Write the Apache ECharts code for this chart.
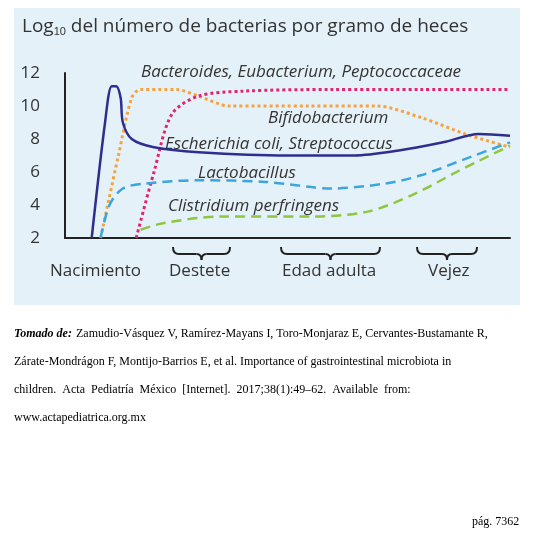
<!DOCTYPE html><html><head><meta charset="utf-8">
<script src="https://cdn.jsdelivr.net/npm/echarts@6/dist/echarts.min.js"></script>
<style>body{margin:0;background:#fff}#c{width:537px;height:534px}</style></head><body><div id="c"></div>
<script>
const yTicks=[2,4,6,8,10,12];
const ecoli=[[6,2],[9,9],[10.5,11.2],[11.5,11.2],[12.5,10.5],[13,9],[15,8],[20,7.5],[30,7.2],[50,7],[65,7],[75,7.3],[85,7.8],[93,8.3],[100,8.2]];
const bacteroides=[[8,2],[12,7],[15,10.5],[17,11],[25,11],[30,10.6],[37,10],[55,10],[70,10],[80,9.3],[90,8.3],[100,7.5]];
const bifido=[[16,2],[20,6],[24,9.5],[30,10.6],[40,10.9],[60,11],[80,11],[100,11]];
const lacto=[[8,2],[10,4],[13,5],[18,5.3],[30,5.5],[45,5.4],[60,5],[72,5.3],[80,5.8],[90,6.8],[100,7.8]];
const clostri=[[17,2.5],[22,2.9],[35,3.3],[55,3.3],[68,3.6],[78,4.6],[88,6],[100,7.6]];
const periods=["Nacimiento","Destete","Edad adulta","Vejez"];
const seriesNames=["Bacteroides, Eubacterium, Peptococcaceae","Bifidobacterium","Escherichia coli, Streptococcus","Lactobacillus","Clistridium perfringens"];
const ch=echarts.init(document.getElementById('c'));
const ln=(d,c,t,w)=>({type:'line',data:d,smooth:0.3,symbol:'none',lineStyle:{color:c,type:t,width:w}});
const st={fill:'none',stroke:'#222',lineWidth:2};
const bz=(a,b,c,d,e,f)=>({type:'bezierCurve',shape:{x1:a,y1:b,cpx1:c,cpy1:d,x2:e,y2:f},style:st});
const brace=(x1,x2)=>{const m=(x1+x2)/2;return [
 bz(x1,247,x1,254,x1+6,254),{type:'line',shape:{x1:x1+6,y1:254,x2:m-5,y2:254},style:st},
 bz(m-5,254,m,254,m,260),bz(m,260,m,254,m+5,254),
 {type:'line',shape:{x1:m+5,y1:254,x2:x2-6,y2:254},style:st},bz(x2-6,254,x2,254,x2,247)];};
const T=(x,y,text,font)=>({type:'text',x,y,style:{text,font,fill:'#333'}});
ch.setOption({
 animation:false,
 graphic:[
  {type:'rect',z:-10,shape:{x:14,y:8,width:506,height:297},style:{fill:'#e5f1f8'}},
  {type:'text',x:22,y:16,style:{text:'Log{s|10} del número de bacterias por gramo de heces',font:'19px "Open Sans"',fill:'#333',rich:{s:{fontSize:11,padding:[10,0,0,0],fill:'#333'}}}},
  T(141,64,seriesNames[0],'italic 17px "Open Sans"'),
  T(268,110,seriesNames[1],'italic 17px "Open Sans"'),
  T(165,136,seriesNames[2],'italic 17px "Open Sans"'),
  T(198,165,seriesNames[3],'italic 17px "Open Sans"'),
  T(168,198,seriesNames[4],'italic 17px "Open Sans"'),
  T(50,263,periods[0],'17px "Open Sans"'),
  T(169,263,periods[1],'17px "Open Sans"'),
  T(282,263,periods[2],'17px "Open Sans"'),
  T(428,263,periods[3],'17px "Open Sans"'),
  ...brace(173,230),...brace(281,380),...brace(417,477),
  {type:'text',x:14,y:320,style:{width:508,overflow:'break',lineHeight:28,font:'12px "Liberation Serif"',fill:'#000',
   text:'{b|Tomado de:} Zamudio-Vásquez V, Ramírez-Mayans I, Toro-Monjaraz E, Cervantes-Bustamante R, Zárate-Mondrágon F, Montijo-Barrios E, et al. Importance of gastrointestinal microbiota in children.  Acta  Pediatría  México  [Internet].  2017;38(1):49–62.  Available  from: www.actapediatrica.org.mx',
   rich:{b:{font:'italic bold 12px "Liberation Serif"',fill:'#000'}}}},
  {type:'text',x:472,y:516,style:{text:'pág. 7362',font:'12px "Liberation Serif"',fill:'#000'}}
 ],
 grid:{left:65,right:27,top:73,bottom:296},
 xAxis:{type:'value',min:0,max:100,axisLine:{lineStyle:{color:'#222',width:2}},axisTick:{show:false},axisLabel:{show:false},splitLine:{show:false}},
 yAxis:{type:'value',min:2,max:12,interval:2,axisLine:{show:true,lineStyle:{color:'#222',width:2}},axisTick:{show:false},splitLine:{show:false},
  axisLabel:{color:'#333',fontSize:17,fontFamily:'Open Sans',margin:25,formatter:v=>yTicks.includes(v)?v:''}},
 series:[ln(bacteroides,'#f4a340','dotted',3),ln(bifido,'#e0246e','dotted',3),ln(lacto,'#3ba6dc',[10,6],2.5),ln(clostri,'#8dc63f',[10,6],2.5),ln(ecoli,'#2e2e8f','solid',2.5)]
});
</script></body></html>
